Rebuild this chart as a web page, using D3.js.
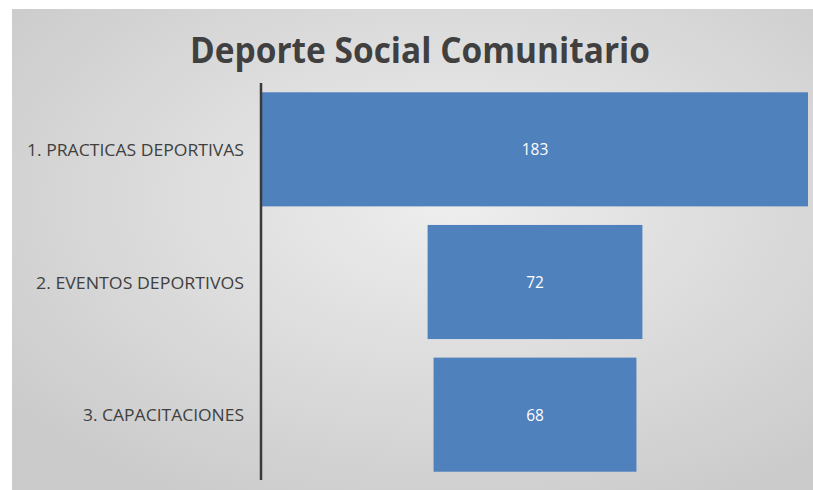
<!DOCTYPE html>
<html>
<head>
<meta charset="utf-8">
<script src="https://cdn.jsdelivr.net/npm/d3@7"></script>
<style>
  body { margin: 0; background: #fff; }
  svg { display: block; }
</style>
</head>
<body>
<svg id="chart" width="813" height="490"></svg>
<script>
// Données du graphique
const categories = ["1. PRACTICAS DEPORTIVAS", "2. EVENTOS DEPORTIVOS", "3. CAPACITACIONES"];
const values = [183, 72, 68];
const titleText = "Deporte Social Comunitario";

const width = 813;
const height = 490;
const margin = {top: 83, right: 5, bottom: 9, left: 261};

const svg = d3.select("#chart");

// Fond avec dégradé gris
const defs = svg.append("defs");
const grad = defs.append("radialGradient")
  .attr("id", "bg")
  .attr("cx", "55%").attr("cy", "40%").attr("r", "70%");
grad.append("stop").attr("offset", "0%").attr("stop-color", "#eeeeee");
grad.append("stop").attr("offset", "100%").attr("stop-color", "#cbcbcb");

svg.append("rect")
  .attr("x", 12).attr("y", 9)
  .attr("width", width - 12).attr("height", height - 9)
  .attr("fill", "url(#bg)");

// Échelles
const y = d3.scaleBand()
  .domain(categories)
  .range([margin.top, height - margin.bottom])
  .paddingInner(0.14)
  .paddingOuter(0.07);

const x = d3.scaleLinear()
  .domain([0, d3.max(values)])
  .range([0, width - margin.right - margin.left - 1]);

const centerX = margin.left + 1 + x(d3.max(values)) / 2;

// Titre
svg.append("text")
  .attr("x", 420)
  .attr("y", 63)
  .attr("text-anchor", "middle")
  .attr("font-family", "'Open Sans', sans-serif")
  .attr("font-weight", "bold")
  .attr("font-size", "36px")
  .attr("fill", "#404040")
  .attr("textLength", 460)
  .attr("lengthAdjust", "spacingAndGlyphs")
  .text(titleText);

// Barres (entonnoir centré)
const data = categories.map((c, i) => ({cat: c, val: values[i]}));

svg.selectAll("rect.bar")
  .data(data)
  .enter()
  .append("rect")
  .attr("class", "bar")
  .attr("x", d => centerX - x(d.val) / 2)
  .attr("y", d => y(d.cat))
  .attr("width", d => x(d.val))
  .attr("height", y.bandwidth())
  .attr("fill", "#4f81bd");

// Valeurs
svg.selectAll("text.val")
  .data(data)
  .enter()
  .append("text")
  .attr("class", "val")
  .attr("x", centerX)
  .attr("y", d => y(d.cat) + y.bandwidth() / 2 + 6)
  .attr("text-anchor", "middle")
  .attr("font-family", "'Open Sans', sans-serif")
  .attr("font-size", "15.5px")
  .attr("fill", "#ffffff")
  .text(d => d.val);

// Étiquettes des catégories
const labelWidths = [217, 208, 161];
svg.selectAll("text.cat")
  .data(data)
  .enter()
  .append("text")
  .attr("class", "cat")
  .attr("x", 244)
  .attr("y", d => y(d.cat) + y.bandwidth() / 2 + 6.5)
  .attr("text-anchor", "end")
  .attr("font-family", "'Open Sans', sans-serif")
  .attr("font-size", "16px")
  .attr("fill", "#404040")
  .attr("textLength", (d, i) => labelWidths[i])
  .attr("lengthAdjust", "spacingAndGlyphs")
  .text(d => d.cat);

// Axe vertical
svg.append("line")
  .attr("x1", margin.left).attr("x2", margin.left)
  .attr("y1", margin.top).attr("y2", height - 10)
  .attr("stroke", "#3a3a3a")
  .attr("stroke-width", 2.5);
</script>
</body>
</html>
